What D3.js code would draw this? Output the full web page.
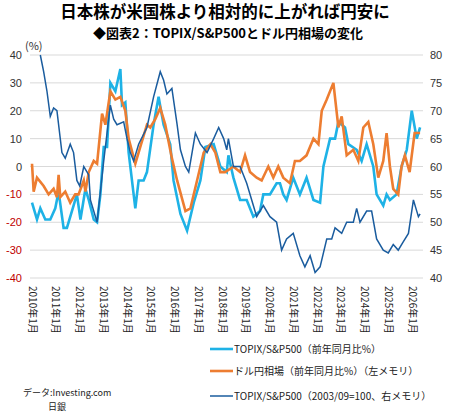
<!DOCTYPE html>
<html><head><meta charset="utf-8">
<script src="https://cdn.jsdelivr.net/npm/d3@7"></script>
<style>body{margin:0;background:#fff}svg{font-family:"Noto Sans CJK JP","Noto Sans",sans-serif}</style>
</head><body><svg id="c" width="450" height="413"></svg>
<script>
const yearTicks=["2010年1月","2011年1月","2012年1月","2013年1月","2014年1月","2015年1月","2016年1月","2017年1月","2018年1月","2019年1月","2020年1月","2021年1月","2022年1月","2023年1月","2024年1月","2025年1月","2026年1月"];
const leftTicks=[40,30,20,10,0,-10,-20,-30,-40];
const rightTicks=[80,75,70,65,60,55,50,45,40];
// TOPIX/S&P500 YoY % (left)
const topixYoY=[[2010.00,-13],[2010.21,-19],[2010.35,-15],[2010.56,-19],[2010.77,-19],[2010.98,-15],[2011.12,-9],[2011.33,-22],[2011.47,-22],[2011.75,-14],[2011.89,-10],[2012.04,-19],[2012.25,-8],[2012.39,-12],[2012.60,-19],[2012.74,-20],[2012.88,-10],[2013.02,7],[2013.16,7],[2013.30,30],[2013.51,27],[2013.72,35],[2013.79,22],[2013.93,23],[2014.07,5],[2014.35,-15],[2014.49,-5],[2014.70,-5],[2014.84,-2],[2015.12,15],[2015.33,25],[2015.54,15],[2015.82,8],[2015.96,-5],[2016.25,-17],[2016.53,-23],[2016.81,-13],[2017.09,-5],[2017.30,7],[2017.65,8],[2017.93,0],[2018.20,-2],[2018.27,4],[2018.48,-4],[2018.76,-12],[2019.04,-12],[2019.32,-18],[2019.60,-16],[2019.74,-10],[2020.02,-10],[2020.30,-6],[2020.44,-6],[2020.58,-10],[2020.72,-12],[2021.00,-4],[2021.28,-10],[2021.56,-4],[2021.85,-12],[2022.13,-13],[2022.27,0],[2022.55,10],[2022.76,10],[2022.90,16],[2023.18,14],[2023.32,8],[2023.67,6],[2023.88,2],[2024.09,8],[2024.37,0],[2024.51,-10],[2024.79,-14],[2024.93,-10],[2025.07,-12],[2025.35,-10],[2025.56,0],[2025.78,6],[2025.99,20],[2026.20,10],[2026.34,14]];
// USD/JPY YoY % (left)
const usdjpyYoY=[[2010.00,1],[2010.07,-9],[2010.21,-4],[2010.49,-7],[2010.70,-10],[2010.91,-8],[2011.05,-11],[2011.12,-3],[2011.19,-11],[2011.40,-9],[2011.61,-13],[2011.82,-10],[2011.96,-10],[2012.18,-5],[2012.25,-9],[2012.39,-2],[2012.60,2],[2012.74,1],[2012.95,19],[2013.09,15],[2013.30,27],[2013.51,24],[2013.72,25],[2013.93,20],[2014.07,10],[2014.35,1],[2014.56,7],[2014.84,15],[2014.98,14],[2015.19,17],[2015.40,21],[2015.61,15],[2015.89,3],[2016.11,-5],[2016.46,-16],[2016.67,-15],[2016.95,-5],[2017.23,5],[2017.51,8],[2017.72,5],[2017.93,-2],[2018.13,-2],[2018.48,0],[2018.76,-2],[2018.97,4],[2019.18,-2],[2019.46,-4],[2019.67,-5],[2019.95,0],[2020.16,-4],[2020.37,0],[2020.58,-4],[2020.86,-6],[2021.07,2],[2021.28,2],[2021.56,4],[2021.85,10],[2022.06,8],[2022.20,20],[2022.41,24],[2022.69,30],[2022.90,14],[2023.04,18],[2023.25,4],[2023.53,6],[2023.74,2],[2023.95,14],[2024.16,16],[2024.37,8],[2024.58,-4],[2024.79,2],[2024.93,12],[2025.07,0],[2025.21,-8],[2025.42,-10],[2025.56,0],[2025.70,4],[2025.90,-2],[2026.11,12],[2026.34,12]];
// TOPIX/S&P500 index 2003/09=100 (right)
const topixIdx=[[2010.35,80],[2010.49,77],[2010.63,73.5],[2010.77,69],[2010.91,70.5],[2011.05,70],[2011.26,62.5],[2011.40,61.5],[2011.61,64],[2011.75,62.5],[2011.89,57.5],[2012.01,56.5],[2012.18,60],[2012.39,58.5],[2012.46,54],[2012.74,50],[2013.02,61],[2013.30,71],[2013.44,68.5],[2013.58,67.5],[2013.86,68],[2014.00,65],[2014.14,62.5],[2014.28,61],[2014.49,64],[2014.84,67],[2015.12,72.5],[2015.40,77],[2015.54,75.5],[2015.68,73],[2015.89,74],[2016.11,67.5],[2016.25,63],[2016.46,60],[2016.60,59],[2016.88,66],[2017.09,64],[2017.37,62.5],[2017.65,65],[2017.86,67],[2018.07,65],[2018.20,63],[2018.27,65],[2018.48,60],[2018.76,60],[2019.04,57],[2019.32,53],[2019.46,51],[2019.74,53],[2020.02,51],[2020.30,50],[2020.51,45],[2020.72,47],[2021.00,48],[2021.28,44],[2021.49,42],[2021.71,44],[2021.92,41],[2022.13,42],[2022.41,47],[2022.62,47],[2022.76,49],[2023.04,48],[2023.25,50],[2023.53,50],[2023.67,52.5],[2023.81,50],[2024.09,52],[2024.30,52],[2024.51,47],[2024.79,45],[2025.00,44.5],[2025.21,46],[2025.42,45],[2025.63,46.5],[2025.85,48],[2026.06,54],[2026.20,52],[2026.27,51],[2026.34,51.5]];

const svg=d3.select("#c");
const x=d3.scaleLinear().domain([2010,2026]).range([32,412]);
const yL=d3.scaleLinear().domain([-40,40]).range([278,55]);
const yR=d3.scaleLinear().domain([40,80]).range([278,55]);

svg.append("text").attr("x",225).attr("y",18).attr("text-anchor","middle").attr("font-size",16.5).attr("font-weight","bold").text("日本株が米国株より相対的に上がれば円安に");
svg.append("text").attr("x",228).attr("y",38).attr("text-anchor","middle").attr("font-size",13).attr("font-weight","bold").text("◆図表2：TOPIX/S&P500とドル円相場の変化");

svg.append("g").selectAll("line").data(leftTicks).join("line")
 .attr("x1",30).attr("x2",423).attr("y1",d=>yL(d)).attr("y2",d=>yL(d)).attr("stroke","#d9d9d9");
svg.append("g").selectAll("text").data(leftTicks).join("text")
 .attr("x",22).attr("y",d=>yL(d)+4).attr("text-anchor","end").attr("font-size",11)
 .attr("fill",d=>d<0?"#c00000":"#333").attr("font-family","Liberation Sans").text(d=>d);
svg.append("g").selectAll("text").data(rightTicks).join("text")
 .attr("x",430).attr("y",d=>yR(d)+4).attr("font-size",11).attr("fill","#333").attr("font-family","Liberation Sans").text(d=>d);
svg.append("text").attr("x",25).attr("y",50).attr("font-size",11).attr("fill","#333").text("(%)");

svg.append("g").selectAll("text").data(yearTicks).join("text")
 .attr("transform",(d,i)=>`translate(${x(2010+i)-3.5},286) rotate(90)`).attr("font-size",10).attr("fill","#222").text(d=>d);

const lineL=d3.line().x(d=>x(d[0])).y(d=>yL(d[1]));
const lineR=d3.line().x(d=>x(d[0])).y(d=>yR(d[1]));
svg.append("path").attr("d",lineL(topixYoY)).attr("fill","none").attr("stroke","#1EB2E6").attr("stroke-width",2.6);
svg.append("path").attr("d",lineL(usdjpyYoY)).attr("fill","none").attr("stroke","#ED7D31").attr("stroke-width",2.6);
svg.append("path").attr("d",lineR(topixIdx)).attr("fill","none").attr("stroke","#1A5C9E").attr("stroke-width",1.5);

const leg=[["TOPIX/S&P500（前年同月比%）","#1EB2E6",2.6,349],["ドル円相場（前年同月比%）（左メモリ）","#ED7D31",2.6,371],["TOPIX/S&P500（2003/09=100、右メモリ）","#1A5C9E",1.5,396]];
leg.forEach(l=>{
 svg.append("line").attr("x1",210).attr("x2",233).attr("y1",l[3]).attr("y2",l[3]).attr("stroke",l[1]).attr("stroke-width",l[2]);
 svg.append("text").attr("x",234).attr("y",l[3]+4).attr("font-size",10).attr("fill","#222").text(l[0]);
});
svg.append("text").attr("x",23).attr("y",396).attr("font-size",9).attr("fill","#222").text("データ:Investing.com");
svg.append("text").attr("x",48).attr("y",410).attr("font-size",9).attr("fill","#222").text("日銀");
</script></body></html>
